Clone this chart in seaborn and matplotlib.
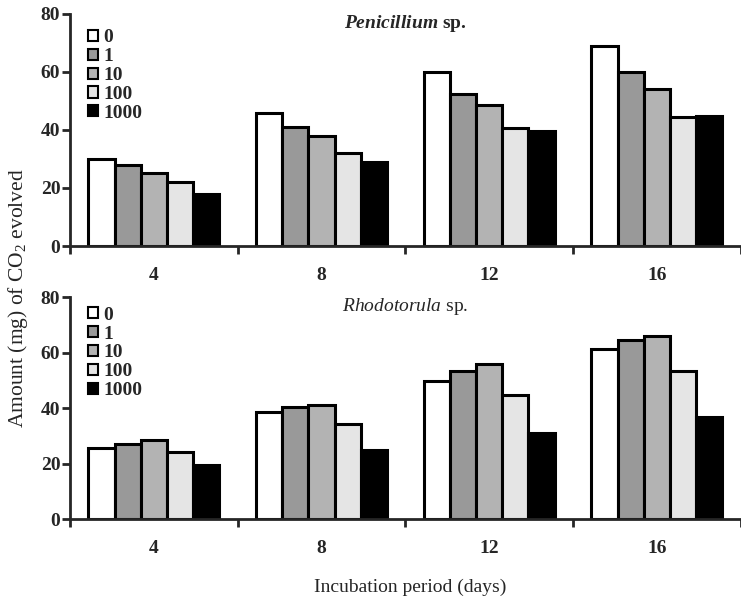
import matplotlib
matplotlib.use("Agg")
import matplotlib.pyplot as plt
import pandas as pd
import seaborn as sns
from matplotlib.patches import Patch

days = ["4", "8", "12", "16"]
doses = ["0", "1", "10", "100", "1000"]
dose_colors = ["#ffffff", "#999999", "#b3b3b3", "#e5e5e5", "#000000"]

# rows = dose, columns = day
penicillium = [
    [30, 46, 60, 69],
    [28, 41, 52.5, 60],
    [25, 38, 48.5, 54],
    [22, 32, 40.7, 44.5],
    [18, 29, 39.8, 44.7],
]
rhodotorula = [
    [25.7, 38.7, 49.8, 61.5],
    [27, 40.5, 53.6, 64.6],
    [28.7, 41.2, 55.9, 66],
    [24.3, 34.2, 44.9, 53.6],
    [19.6, 24.8, 31, 37],
]

sns.set_theme(style="ticks")
plt.rcParams["font.family"] = ["Liberation Serif", "DejaVu Serif"]
plt.rcParams["mathtext.fontset"] = "custom"
plt.rcParams["mathtext.rm"] = "Liberation Serif"
plt.rcParams["mathtext.it"] = "Liberation Serif:italic"
plt.rcParams["mathtext.bf"] = "Liberation Serif:bold"
plt.rcParams["mathtext.bfit"] = "Liberation Serif:italic:bold"


def long_frame(values):
    rows = []
    for dose, series in zip(doses, values):
        for day, v in zip(days, series):
            rows.append({"day": day, "dose": dose, "co2": v})
    return pd.DataFrame(rows)


def draw_panel(ax, values, title, title_weight, legend_y):
    df = long_frame(values)
    sns.barplot(data=df, x="day", y="co2", hue="dose", order=days, hue_order=doses,
                palette=dose_colors, edgecolor="black", linewidth=2.2, width=0.78,
                legend=False, ax=ax)
    ax.set_xlim(-0.5, 3.5)
    ax.set_ylim(0, 80)
    ax.set_yticks([0, 20, 40, 60, 80])
    ax.set_xlabel("")
    ax.set_ylabel("")
    ax.set_xticks([-0.5, 0.5, 1.5, 2.5, 3.5], minor=True)
    ax.tick_params(axis="x", which="major", length=0, pad=15, labelsize=14)
    ax.tick_params(axis="x", which="minor", length=6, width=2, direction="out")
    ax.tick_params(axis="y", length=6, width=2, direction="out", labelsize=14, pad=1)
    for lab in ax.get_xticklabels() + ax.get_yticklabels():
        lab.set_fontweight("bold")
    for side in ["left", "bottom"]:
        ax.spines[side].set_linewidth(2)
    sns.despine(ax=ax)
    ax.text(0.5, 0.96, title, transform=ax.transAxes, ha="center", va="center",
            fontsize=14, fontweight=title_weight)
    handles = [Patch(facecolor=c, edgecolor="black", linewidth=1.5, label=d)
               for c, d in zip(dose_colors, doses)]
    ax.legend(handles=handles, loc="upper left", bbox_to_anchor=(0.015, legend_y),
              frameon=False, handlelength=0.5, handleheight=0.5,
              handletextpad=0.3, labelspacing=0.1, borderaxespad=0,
              prop={"size": 14, "weight": "bold"})


fig = plt.figure(figsize=(7.41, 6.03), dpi=100)
ax_top = fig.add_axes([0.0945, 0.592, 0.905, 0.385])
ax_bot = fig.add_axes([0.0945, 0.139, 0.905, 0.368])

draw_panel(ax_top, penicillium, r"$\mathbfit{Penicillium}$ sp.", "bold", 0.968)
draw_panel(ax_bot, rhodotorula, r"$\mathit{Rhodotorula}$ sp.", "normal", 0.993)

fig.text(0.024, 0.506, r"Amount (mg) of CO$_2$ evolved", rotation=90,
         ha="center", va="center", fontsize=15.5)
fig.text(0.553, 0.026, "Incubation period (days)", ha="center", va="center", fontsize=14)

fig.savefig("out.png", dpi=100)
